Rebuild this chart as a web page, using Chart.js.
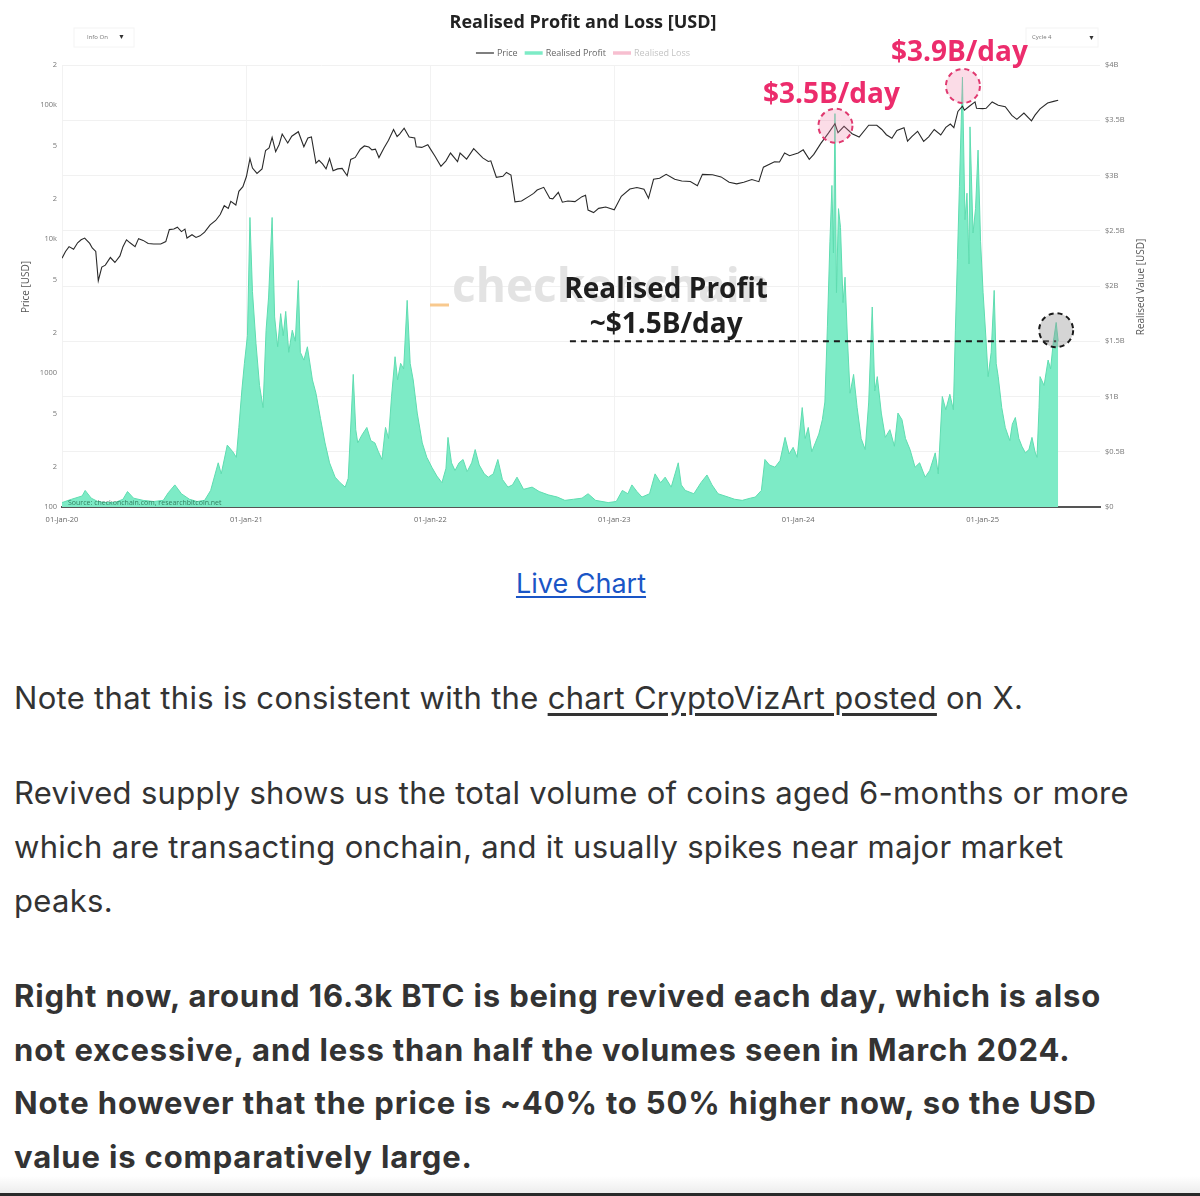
<!DOCTYPE html>
<html>
<head>
<meta charset="utf-8">
<script src="https://cdn.jsdelivr.net/npm/chart.js@4.4.1/dist/chart.umd.min.js"></script>
<style>
  html, body { margin: 0; padding: 0; background: #fff; }
  body { width: 1200px; height: 1196px; overflow: hidden; position: relative; font-family: Inter, "Liberation Sans", Arial, sans-serif; color: #333; }
  #wrap { position: relative; width: 1200px; height: 540px; }
  .live { margin-top: 24px; height: 40px; line-height: 40px; text-align: center; padding-right: 38px; font-size: 27px; }
  .live a { color: #1a55c6; text-decoration: underline; text-underline-offset: 3px; }
  p { margin: 41px 0 0 14px; font-size: 31px; letter-spacing: 0.3px; line-height: 54px; white-space: nowrap; }
  p.first { margin-top: 67px; }
  p a { color: #333; text-decoration: underline; text-underline-offset: 4px; }
  p.b { font-weight: bold; font-size: 31px; letter-spacing: 0.85px; line-height: 53.7px; }
  .shade { position: absolute; left: 0; top: 1176px; width: 1200px; height: 17px; background: linear-gradient(#fff, #ededed); }
  .rule { position: absolute; left: 0; top: 1193px; width: 1200px; height: 3px; background: #2a2a2a; }
</style>
</head>
<body>
<div id="wrap"><canvas id="rplChart"></canvas></div>
<div class="live"><a href="#">Live Chart</a></div>
<p class="first">Note that this is consistent with the <a href="#">chart CryptoVizArt posted</a> on X.</p>
<p>Revived supply shows us the total volume of coins aged 6-months or more<br>which are transacting onchain, and it usually spikes near major market<br>peaks.</p>
<p class="b">Right now, around 16.3k BTC is being revived each day, which is also<br>not excessive, and less than half the volumes seen in March 2024.<br>Note however that the price is ~40% to 50% higher now, so the USD<br>value is comparatively large.</p>
<div class="shade"></div>
<div class="rule"></div>
<script>
// --- data ---
const priceDates = [
  '2020-01-01','2020-01-08','2020-01-15','2020-01-24','2020-02-01','2020-02-08','2020-02-15','2020-02-25','2020-03-01','2020-03-08',
  '2020-03-13','2020-03-20','2020-03-27','2020-04-06','2020-04-15','2020-04-25','2020-05-01','2020-05-08','2020-05-15','2020-05-25',
  '2020-06-01','2020-06-10','2020-06-20','2020-07-01','2020-07-15','2020-07-25','2020-08-01','2020-08-10','2020-08-17','2020-08-25',
  '2020-09-01','2020-09-05','2020-09-15','2020-09-23','2020-10-01','2020-10-10','2020-10-21','2020-11-01','2020-11-10','2020-11-18',
  '2020-11-26','2020-12-01','2020-12-11','2020-12-17','2020-12-25','2021-01-01','2021-01-08','2021-01-13','2021-01-22','2021-02-01',
  '2021-02-08','2021-02-15','2021-02-21','2021-02-28','2021-03-07','2021-03-13','2021-03-24','2021-04-01','2021-04-14','2021-04-25',
  '2021-05-03','2021-05-10','2021-05-19','2021-05-25','2021-06-01','2021-06-08','2021-06-15','2021-06-22','2021-07-01','2021-07-10',
  '2021-07-20','2021-07-27','2021-08-05','2021-08-15','2021-08-23','2021-09-01','2021-09-07','2021-09-14','2021-09-21','2021-10-01',
  '2021-10-10','2021-10-20','2021-10-27','2021-11-01','2021-11-10','2021-11-20','2021-12-01','2021-12-04','2021-12-15','2021-12-27',
  '2022-01-01','2022-01-10','2022-01-22','2022-02-01','2022-02-10','2022-02-24','2022-03-01','2022-03-14','2022-03-28','2022-04-15',
  '2022-04-26','2022-05-01','2022-05-12','2022-05-25','2022-06-01','2022-06-10','2022-06-18','2022-07-01','2022-07-15','2022-07-25',
  '2022-08-01','2022-08-14','2022-08-26','2022-09-01','2022-09-12','2022-09-20','2022-10-01','2022-10-15','2022-10-29','2022-11-05',
  '2022-11-10','2022-11-21','2022-12-01','2022-12-15','2023-01-01','2023-01-15','2023-02-01','2023-02-15','2023-03-01','2023-03-10',
  '2023-03-20','2023-04-01','2023-04-14','2023-05-01','2023-05-15','2023-06-01','2023-06-15','2023-06-25','2023-07-15','2023-08-01',
  '2023-08-17','2023-09-01','2023-09-15','2023-10-01','2023-10-15','2023-10-24','2023-11-15','2023-11-25','2023-12-05','2023-12-15',
  '2024-01-01','2024-01-11','2024-01-23','2024-02-01','2024-02-15','2024-03-01','2024-03-14','2024-03-20','2024-04-01','2024-04-17',
  '2024-05-01','2024-05-20','2024-06-05','2024-06-15','2024-06-24','2024-07-05','2024-07-15','2024-07-29','2024-08-05','2024-08-14',
  '2024-08-25','2024-09-06','2024-09-16','2024-09-27','2024-10-10','2024-10-20','2024-10-29','2024-11-05','2024-11-13','2024-11-22',
  '2024-11-26','2024-12-05','2024-12-17','2024-12-20','2025-01-01','2025-01-08','2025-01-20','2025-02-01','2025-02-15','2025-02-28',
  '2025-03-10','2025-03-24','2025-04-08','2025-04-15','2025-04-25','2025-05-10','2025-05-22','2025-05-31'
];
const priceValues = [
  7200, 8100, 8800, 8400, 9400, 9900, 10200, 9300, 8600, 8100,
  4900, 6200, 6400, 7300, 6700, 7500, 8800, 9900, 9400, 8800,
  10100, 9800, 9300, 9200, 9200, 9600, 11800, 11900, 12300, 11400,
  11900, 10200, 10800, 10300, 10600, 11300, 12800, 13800, 15300, 17800,
  17000, 19200, 18000, 22800, 24700, 29400, 40000, 34000, 31000, 33500,
  46000, 48000, 57500, 45000, 51000, 61000, 52300, 58800, 63500, 49000,
  57000, 58000, 37000, 38800, 36500, 33500, 40000, 32500, 33500, 33800,
  29800, 39400, 40800, 47000, 49700, 48800, 46500, 47100, 40700, 48000,
  54800, 66000, 58500, 61000, 67500, 58000, 57000, 49000, 48500, 50700,
  47300, 41800, 35000, 38500, 44000, 38000, 44000, 39600, 47500, 40500,
  38100, 38500, 29000, 29500, 31500, 30100, 19000, 19300, 20800, 22000,
  23300, 24400, 20200, 20000, 22400, 18900, 19300, 19100, 20800, 21300,
  16500, 15800, 17000, 17400, 16600, 20900, 23700, 24300, 23600, 20200,
  28000, 28500, 30500, 28000, 27200, 27000, 25100, 30500, 30300, 29200,
  26600, 25900, 26600, 27900, 26900, 34500, 37900, 37700, 44000, 42000,
  44000, 46500, 39500, 43000, 52000, 62000, 73000, 62500, 69600, 61300,
  58000, 71000, 71000, 66000, 60300, 56700, 64800, 68000, 54000, 58700,
  64000, 53800, 58200, 66000, 60000, 68400, 72500, 68000, 90000, 98500,
  91900, 98000, 106000, 95000, 94500, 95000, 106000, 100000, 97500, 84000,
  78500, 87500, 76500, 84500, 94000, 104000, 107000, 109000
];
const profitDates = [
  '2020-01-01','2020-01-20','2020-02-10','2020-02-16','2020-02-28','2020-03-12','2020-03-25','2020-04-15','2020-05-01','2020-05-10',
  '2020-05-22','2020-06-10','2020-07-01','2020-07-20','2020-07-30','2020-08-12','2020-08-25','2020-09-10','2020-09-25','2020-10-10',
  '2020-10-22','2020-11-06','2020-11-12','2020-11-24','2020-12-05','2020-12-12','2020-12-17','2020-12-23','2020-12-28','2021-01-03',
  '2021-01-08','2021-01-13','2021-01-20','2021-01-27','2021-02-03','2021-02-09','2021-02-14','2021-02-21','2021-02-26','2021-03-04',
  '2021-03-10','2021-03-15','2021-03-20','2021-03-26','2021-04-02','2021-04-08','2021-04-14','2021-04-18','2021-04-25','2021-05-02',
  '2021-05-12','2021-05-19','2021-05-28','2021-06-06','2021-06-15','2021-06-26','2021-07-06','2021-07-16','2021-07-22','2021-08-01',
  '2021-08-06','2021-08-10','2021-08-18','2021-08-28','2021-09-05','2021-09-13','2021-09-20','2021-09-27','2021-10-04','2021-10-10',
  '2021-10-16','2021-10-23','2021-10-28','2021-11-03','2021-11-09','2021-11-16','2021-11-22','2021-11-28','2021-12-06','2021-12-16',
  '2021-12-25','2022-01-04','2022-01-14','2022-01-24','2022-02-01','2022-02-05','2022-02-12','2022-02-19','2022-02-27','2022-03-07',
  '2022-03-15','2022-03-24','2022-03-31','2022-04-08','2022-04-18','2022-04-26','2022-05-06','2022-05-15','2022-05-24','2022-06-04',
  '2022-06-13','2022-06-22','2022-07-05','2022-07-22','2022-08-05','2022-08-23','2022-09-10','2022-09-25','2022-10-12','2022-10-29',
  '2022-11-10','2022-11-25','2022-12-20','2023-01-05','2023-01-17','2023-01-28','2023-02-05','2023-02-15','2023-02-25','2023-03-12',
  '2023-03-23','2023-04-03','2023-04-12','2023-04-24','2023-05-08','2023-05-14','2023-05-22','2023-06-08','2023-06-22','2023-07-04',
  '2023-07-14','2023-07-26','2023-08-15','2023-08-28','2023-09-12','2023-09-28','2023-10-08','2023-10-20','2023-10-27','2023-11-05',
  '2023-11-16','2023-11-26','2023-12-06','2023-12-14','2023-12-22','2023-12-30','2024-01-09','2024-01-15','2024-01-21','2024-01-28',
  '2024-02-04','2024-02-11','2024-02-18','2024-02-23','2024-02-28','2024-03-04','2024-03-08','2024-03-11','2024-03-14','2024-03-17',
  '2024-03-21','2024-03-25','2024-03-30','2024-04-03','2024-04-08','2024-04-13','2024-04-20','2024-04-27','2024-05-05','2024-05-13',
  '2024-05-20','2024-05-27','2024-06-01','2024-06-06','2024-06-14','2024-06-22','2024-07-01','2024-07-10','2024-07-17','2024-07-25',
  '2024-08-01','2024-08-10','2024-08-20','2024-08-29','2024-09-09','2024-09-18','2024-09-29','2024-10-05','2024-10-13','2024-10-20',
  '2024-10-28','2024-11-04','2024-11-08','2024-11-12','2024-11-16','2024-11-22','2024-11-27','2024-12-01','2024-12-05','2024-12-07',
  '2024-12-13','2024-12-18','2024-12-23','2024-12-28','2025-01-02','2025-01-08','2025-01-12','2025-01-18','2025-01-24','2025-01-28',
  '2025-02-01','2025-02-08','2025-02-15','2025-02-24','2025-03-01','2025-03-07','2025-03-14','2025-03-20','2025-03-27','2025-04-03',
  '2025-04-09','2025-04-15','2025-04-19','2025-04-23','2025-04-25','2025-05-03','2025-05-11','2025-05-16','2025-05-21','2025-05-27',
  '2025-05-31'
];
// realised profit, USD billions per day
const profitValues = [
  0.04, 0.07, 0.10, 0.15, 0.08, 0.05, 0.04, 0.04, 0.07, 0.14,
  0.08, 0.06, 0.05, 0.06, 0.13, 0.20, 0.12, 0.07, 0.05, 0.06,
  0.15, 0.40, 0.30, 0.56, 0.50, 0.45, 0.72, 1.06, 1.30, 1.55,
  2.62, 1.95, 1.48, 1.10, 0.90, 1.60, 1.90, 2.62, 1.72, 1.45,
  1.75, 1.55, 1.77, 1.40, 1.60, 1.50, 2.05, 1.40, 1.33, 1.45,
  1.15, 1.03, 0.80, 0.58, 0.40, 0.27, 0.22, 0.18, 0.26, 1.20,
  0.70, 0.58, 0.65, 0.72, 0.60, 0.58, 0.50, 0.43, 0.72, 0.62,
  1.00, 1.36, 1.15, 1.30, 1.25, 1.87, 1.30, 1.15, 0.85, 0.58,
  0.45, 0.36, 0.28, 0.22, 0.35, 0.63, 0.40, 0.33, 0.40, 0.43,
  0.32, 0.40, 0.52, 0.38, 0.30, 0.27, 0.30, 0.43, 0.25, 0.18,
  0.20, 0.27, 0.16, 0.18, 0.14, 0.11, 0.09, 0.06, 0.07, 0.08,
  0.12, 0.06, 0.04, 0.05, 0.15, 0.12, 0.20, 0.14, 0.09, 0.12,
  0.30, 0.22, 0.27, 0.18, 0.40, 0.20, 0.15, 0.12, 0.22, 0.29,
  0.20, 0.12, 0.09, 0.07, 0.06, 0.08, 0.09, 0.15, 0.43, 0.38,
  0.36, 0.42, 0.63, 0.48, 0.54, 0.45, 0.90, 0.62, 0.72, 0.50,
  0.58, 0.66, 0.79, 0.95, 1.63, 2.40, 2.91, 2.30, 3.56, 1.94,
  2.70, 2.53, 1.85, 2.08, 1.50, 1.03, 1.20, 0.90, 0.62, 0.52,
  0.95, 1.81, 1.05, 1.18, 0.85, 0.63, 0.70, 0.55, 0.85, 0.79,
  0.62, 0.52, 0.36, 0.40, 0.27, 0.33, 0.49, 0.30, 1.00, 0.88,
  1.02, 0.88, 1.60, 2.24, 2.90, 3.89, 2.60, 2.84, 2.20, 3.44,
  2.48, 2.70, 3.23, 2.40, 1.94, 1.50, 1.18, 1.40, 1.96, 1.30,
  1.18, 0.90, 0.72, 0.60, 0.75, 0.81, 0.62, 0.55, 0.49, 0.52,
  0.63, 0.50, 0.45, 0.90, 1.18, 1.10, 1.33, 1.25, 1.48, 1.67,
  1.50
];
const yearTicks = ['2020-01-01','2021-01-01','2022-01-01','2023-01-01','2024-01-01','2025-01-01'];
const priceTicks = [100, 200, 500, 1000, 2000, 5000, 10000, 20000, 50000, 100000, 200000];
const valueTicks = [0, 0.5, 1, 1.5, 2, 2.5, 3, 3.5, 4];
const xStart = '2020-01-01';
const xEnd = '2025-08-22';

const toMs = s => Date.parse(s + 'T00:00:00Z');
const MONTHS = ['Jan','Feb','Mar','Apr','May','Jun','Jul','Aug','Sep','Oct','Nov','Dec'];
function fmtDate(ms) {
  const d = new Date(ms);
  return String(d.getUTCDate()).padStart(2, '0') + '-' + MONTHS[d.getUTCMonth()] + '-' + String(d.getUTCFullYear()).slice(2);
}
function fmtPrice(v) {
  if (v === 100 || v === 1000) return String(v);
  if (v === 10000) return '10k';
  if (v === 100000) return '100k';
  return String(v).charAt(0);
}

const FONT = '"Open Sans", Lato, sans-serif';

// decorations: title, legend, widgets, watermark, annotations
const decor = {
  id: 'decor',
  beforeDatasetsDraw(chart) {
    const { ctx } = chart;
    ctx.save();
    // watermark
    ctx.font = 'bold 46px ' + FONT;
    ctx.fillStyle = '#e3e3e3';
    ctx.textBaseline = 'middle';
    ctx.textAlign = 'left';
    const wm = 'checkonchain';
    const wmScale = 318 / ctx.measureText(wm).width;
    ctx.save(); ctx.translate(452, 289); ctx.scale(wmScale, 1); ctx.fillText(wm, 0, 0); ctx.restore();
    ctx.strokeStyle = '#f8c98e';
    ctx.lineWidth = 3;
    ctx.beginPath(); ctx.moveTo(430, 305); ctx.lineTo(449, 305); ctx.stroke();
    ctx.restore();
  },
  afterDatasetsDraw(chart) {
    const { ctx, chartArea: a } = chart;
    ctx.save();
    // source line over the area
    ctx.font = '7px ' + FONT;
    ctx.fillStyle = 'rgba(30,100,70,0.8)';
    ctx.textBaseline = 'middle';
    ctx.textAlign = 'left';
    ctx.fillText('Source: checkonchain.com, researchbitcoin.net', a.left + 6, a.bottom - 4);
    ctx.restore();
  },
  afterDraw(chart) {
    const { ctx, chartArea: a, scales } = chart;
    const cx = (a.left + a.right) / 2;
    const X = s => scales.x.getPixelForValue(toMs(s));
    const Y = v => scales.y1.getPixelForValue(v);
    ctx.save();
    // title
    ctx.textAlign = 'center';
    ctx.textBaseline = 'middle';
    ctx.fillStyle = '#222';
    ctx.font = 'bold 18px ' + FONT;
    ctx.fillText('Realised Profit and Loss [USD]', cx + 2, 23);
    // legend
    ctx.font = '9px ' + FONT;
    const items = [
      { t: 'Price', c: '#555', w: 1.5, tc: '#666' },
      { t: 'Realised Profit', c: '#7debc6', w: 3.5, tc: '#666' },
      { t: 'Realised Loss', c: '#f7bfd0', w: 3.5, tc: '#c4c4c4' }
    ];
    let total = 0;
    items.forEach(it => { it.tw = ctx.measureText(it.t).width; total += 18 + 3 + it.tw; });
    total += 7 * (items.length - 1);
    let lx = cx + 2 - total / 2;
    ctx.textAlign = 'left';
    items.forEach(it => {
      ctx.strokeStyle = it.c; ctx.lineWidth = it.w;
      ctx.beginPath(); ctx.moveTo(lx, 53); ctx.lineTo(lx + 18, 53); ctx.stroke();
      ctx.fillStyle = it.tc;
      ctx.fillText(it.t, lx + 21, 53.5);
      lx += 21 + it.tw + 7;
    });
    // dropdown widgets
    ctx.font = '6px ' + FONT;
    ctx.fillStyle = '#777';
    ctx.fillText('Info On', 87, 37);
    ctx.fillText('Cycle 4', 1032, 37);
    ctx.fillStyle = '#333';
    ctx.font = '7px ' + FONT;
    ctx.fillText('\u25BC', 118, 37);
    ctx.fillText('\u25BC', 1088, 38);
    ctx.strokeStyle = '#f4f4f4'; ctx.lineWidth = 1;
    ctx.strokeRect(74, 28, 60, 19);
    ctx.strokeRect(1026, 28, 72, 19);
    // axis titles
    ctx.fillStyle = '#555';
    ctx.font = '10px ' + FONT;
    ctx.textAlign = 'center';
    ctx.save(); ctx.translate(26, 287); ctx.rotate(-Math.PI / 2); ctx.fillText('Price [USD]', 0, 0); ctx.restore();
    ctx.save(); ctx.translate(1141, 287); ctx.rotate(-Math.PI / 2); ctx.fillText('Realised Value [USD]', 0, 0); ctx.restore();
    // dashed reference line at ~$1.5B/day
    ctx.strokeStyle = '#1a1a1a'; ctx.lineWidth = 2; ctx.setLineDash([6, 5]);
    ctx.beginPath(); ctx.moveTo(X('2022-10-05'), Y(1.5)); ctx.lineTo(X('2025-05-27'), Y(1.5)); ctx.stroke();
    ctx.setLineDash([]);
    // annotation text
    ctx.fillStyle = '#1e1e1e';
    ctx.font = 'bold 28px ' + FONT;
    ctx.fillText('Realised Profit', X('2023-04-14'), Y(1.96));
    ctx.fillText('~$1.5B/day', X('2023-04-14'), Y(1.65));
    ctx.fillStyle = '#ec2c6c';
    ctx.fillText('$3.5B/day', X('2024-03-07'), Y(3.73));
    ctx.fillText('$3.9B/day', X('2024-11-16'), Y(4.11));
    // circles
    const circle = (d, v, fill, stroke) => {
      ctx.beginPath(); ctx.arc(X(d), Y(v), 17, 0, Math.PI * 2);
      ctx.fillStyle = fill; ctx.fill();
      ctx.setLineDash([5, 4]); ctx.lineWidth = 2; ctx.strokeStyle = stroke; ctx.stroke();
      ctx.setLineDash([]);
    };
    circle('2024-03-15', 3.45, 'rgba(240,130,170,0.28)', '#e03a70');
    circle('2024-11-23', 3.81, 'rgba(240,130,170,0.28)', '#e03a70');
    circle('2025-05-27', 1.6, 'rgba(150,150,150,0.4)', '#1a1a1a');
    ctx.restore();
  }
};

const ctx = document.getElementById('rplChart').getContext('2d');
const rplChart = new Chart(ctx, {
  type: 'line',
  data: {
    datasets: [{
      label: 'Price',
      data: priceDates.map((d, i) => ({ x: toMs(d), y: priceValues[i] })),
      yAxisID: 'y',
      borderColor: '#2a2a2a',
      borderWidth: 1.1,
      pointRadius: 0,
      fill: false,
      order: 0
    }, {
      label: 'Realised Profit',
      data: profitDates.map((d, i) => ({ x: toMs(d), y: profitValues[i] })),
      yAxisID: 'y1',
      borderColor: '#5fdcb0',
      backgroundColor: '#7debc6',
      borderWidth: 1,
      pointRadius: 0,
      fill: 'origin',
      order: 1
    }]
  },
  options: {
    responsive: true,
    maintainAspectRatio: false,
    animation: false,
    layout: { padding: { top: 65, bottom: 5, left: 0, right: 0 } },
    plugins: { legend: { display: false }, title: { display: false }, tooltip: { enabled: false } },
    scales: {
      x: {
        type: 'linear',
        min: toMs(xStart),
        max: toMs(xEnd),
        afterBuildTicks: s => { s.ticks = yearTicks.map(d => ({ value: toMs(d) })); },
        afterFit: s => { s.height = 28; },
        ticks: { callback: v => fmtDate(v), font: { size: 7.5, family: FONT }, color: '#666', maxRotation: 0, autoSkip: false, padding: 8 },
        grid: { color: '#f2f2f2', drawTicks: false },
        border: { color: '#555', width: 2 }
      },
      y: {
        type: 'logarithmic',
        position: 'left',
        min: 100,
        max: 200000,
        afterBuildTicks: s => { s.ticks = priceTicks.map(v => ({ value: v })); },
        afterFit: s => { s.width = 62; },
        ticks: { callback: v => fmtPrice(v), font: { size: 7.5, family: FONT }, color: '#777', autoSkip: false, padding: 5 },
        grid: { display: false, drawTicks: false },
        border: { display: false }
      },
      y1: {
        type: 'linear',
        position: 'right',
        min: 0,
        max: 4,
        afterBuildTicks: s => { s.ticks = valueTicks.map(v => ({ value: v })); },
        afterFit: s => { s.width = 100; },
        ticks: { callback: v => v === 0 ? '$0' : '$' + v + 'B', font: { size: 7.5, family: FONT }, color: '#777', autoSkip: false, padding: 5 },
        grid: { color: '#f1f1f1', drawTicks: false },
        border: { display: false }
      }
    }
  },
  plugins: [decor]
});
</script>
</body>
</html>
